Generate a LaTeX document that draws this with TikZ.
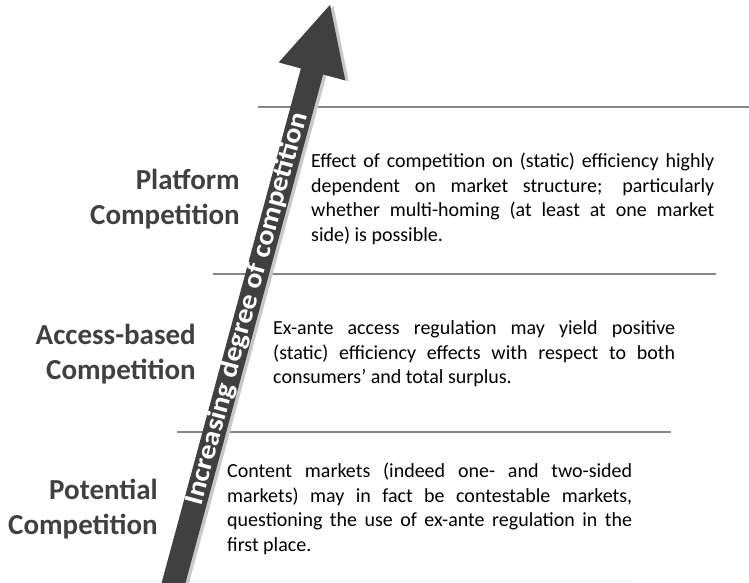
\documentclass[tikz,border=0pt]{standalone}
\usepackage{fontspec}
\setmainfont{Carlito}
\newfontfamily\trendfont[FakeStretch=1.1]{Carlito}
\definecolor{darkgrey}{HTML}{404040}
\definecolor{rulegrey}{HTML}{868686}
\definecolor{shadowgrey}{HTML}{C8C8C8}
\definecolor{fadegrey}{HTML}{EEEEEE}

\begin{document}
\begin{tikzpicture}[x=1pt, y=1pt,
    every node/.style={inner sep=0},
    level/.style={anchor=base east, text width=220pt, align=right,
      text=darkgrey, font=\fontsize{29}{35}\selectfont\bfseries},
    note/.style={anchor=base west, align=justify,
      font=\fontsize{20}{24.4}\selectfont},
    rule/.style={rulegrey, line width=2.2pt}]
  \clip (0,0) rectangle (749,583);

  \draw[rule] (258,476) -- (749,476);
  \draw[rule] (213,309) -- (716,309);
  \draw[rule] (177,151) -- (671,151);
  \draw[fadegrey, line width=1pt] (120,2) -- (633,2);

  % the rising arrow, shadow first
  \fill[shadowgrey, shift={(176.9,-0.9)}, rotate=74.85]
    (-20,-11.5) -- (530,-11.5) -- (530,-34.5) -- (599,0)
    -- (530,34.5) -- (530,11.5) -- (-20,11.5) -- cycle;
  \begin{scope}[shift={(173.5,0)}, rotate=74.85]
    \fill[darkgrey]
      (-20,-11.5) -- (530,-11.5) -- (530,-34.5) -- (599,0)
      -- (530,34.5) -- (530,11.5) -- (-20,11.5) -- cycle;
    \node[transform shape, text=white, font=\fontsize{27}{31}\trendfont\bfseries]
      (trend) at (284,0.5) {Increasing degree of competition};
  \end{scope}

  \node[level] (platform) at (240,393) {Platform\\Competition};
  \node[level] (access) at (196,238) {Access-based\\Competition};
  \node[level] (potential) at (158,83) {Potential\\Competition};

  \node[note, text width=403pt]
    (platformtext) at (311,415) {Effect of competition on (static) efficiency highly\linebreak
      dependent on market structure; particularly\linebreak
      whether multi-homing (at least at one market\linebreak
      side) is possible.};

  \node[note, text width=402pt]
    (accesstext) at (273,248) {Ex-ante access regulation may yield positive\linebreak
      (static) efficiency effects with respect to both\linebreak
      consumers’ and total surplus.};

  \node[note, text width=405pt]
    (potentialtext) at (227,105) {Content markets (indeed one- and two-sided\linebreak
      markets) may in fact be contestable markets,\linebreak
      questioning the use of ex-ante regulation in the\linebreak
      first place.};
\end{tikzpicture}
\end{document}
